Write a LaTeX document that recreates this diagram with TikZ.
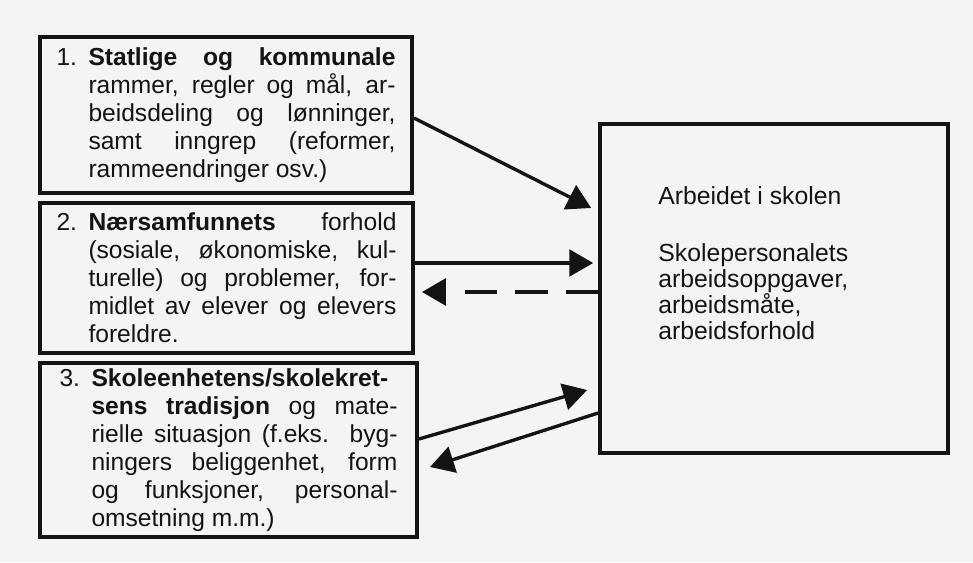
\documentclass[tikz,border=0pt]{standalone}
\usepackage{fontspec}
\setmainfont{Liberation Sans}
\usetikzlibrary{arrows.meta}
\setlength{\parindent}{0pt}
\tolerance=10000
\hbadness=10000
\newcommand{\nummer}[1]{\makebox[0.8cm][l]{#1}}
\definecolor{bakgrunn}{RGB}{244,244,244}
\definecolor{blekk}{RGB}{20,20,20}

\begin{document}
\begin{tikzpicture}[
	boks/.style={draw=blekk, line width=2.8pt, inner sep=0pt, align=justify, text=blekk,
		font=\fontsize{17.5}{19.9}\selectfont,
		execute at begin node={\hangindent=0.8cm\hangafter=1}},
	pil/.style={draw=blekk, line width=2.4pt, -{Triangle[length=17pt,width=19pt]}},
	stiplet/.style={dash pattern=on 23pt off 13pt}
	]
	\fill[bakgrunn] (0,0) rectangle (24.325,14.05);
	\useasboundingbox (0,0) rectangle (24.325,14.05);
	\node[boks, text width=8.475cm, minimum width=9.3cm, minimum height=3.9cm] (b1) at (5.65,11.175)
		{\nummer{1.}\textbf{Statlige og kommunale}\linebreak rammer, regler og mål, ar-\linebreak beidsdeling og lønninger,\linebreak samt inngrep (reformer,\linebreak rammeendringer osv.)};
	\node[boks, text width=8.5cm, minimum width=9.325cm, minimum height=3.75cm] (b2) at (5.6625,7.1)
		{\nummer{2.}\textbf{Nærsamfunnets} forhold\linebreak (sosiale, økonomiske, kul-\linebreak turelle) og problemer, for-\linebreak midlet av elever og elevers\linebreak foreldre.};
	\node[boks, text width=8.45cm, minimum width=9.425cm, minimum height=4.35cm] (b3) at (5.7125,2.8)
		{\nummer{3.}\textbf{Skoleenhetens/skolekret-}\linebreak \textbf{sens tradisjon} og mate-\linebreak rielle situasjon (f.eks. byg-\linebreak ningers beliggenhet, form\linebreak og funksjoner, personal-\linebreak omsetning m.m.)};
	\node[draw=blekk, line width=2.6pt, minimum width=8.7cm, minimum height=8.225cm, inner sep=0pt] (skolen) at (19.35,6.8375) {};
	\node[anchor=north west, inner sep=0pt, align=left, text=blekk, font=\fontsize{17.6}{18.5}\selectfont] (skoletekst)
		at ([xshift=1.5cm,yshift=-1.6cm]skolen.north west)
		{Arbeidet i skolen\\[0.775cm]Skolepersonalets\\arbeidsoppgaver,\\arbeidsmåte,\\arbeidsforhold};
	\draw[pil] (b1.east |- 0,11.1) -- ([xshift=-0.175cm]skolen.west |- 0,8.85);
	\draw[pil] (b2.east |- 0,7.475) -- ([xshift=-0.125cm]skolen.west |- 0,7.475);
	\draw[pil, stiplet] (skolen.west |- 0,6.75) -- ([xshift=0.175cm]b2.east |- 0,6.75);
	\draw[pil] (b3.east |- 0,3.075) -- ([xshift=-0.275cm]skolen.west |- 0,4.3);
	\draw[pil] (skolen.west |- 0,3.725) -- ([xshift=0.275cm]b3.east |- 0,2.375);
\end{tikzpicture}
\end{document}
